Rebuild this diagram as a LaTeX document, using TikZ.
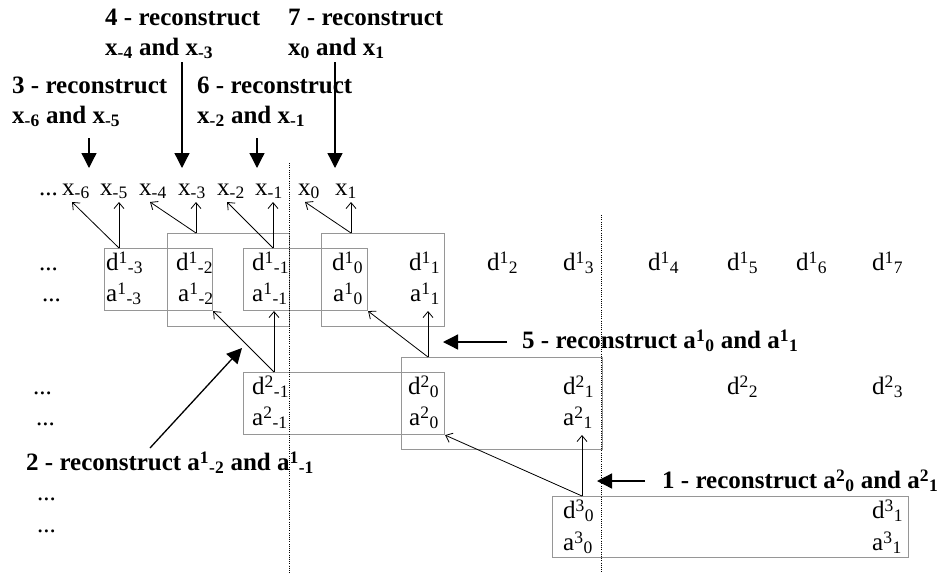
\documentclass[tikz,border=0pt]{standalone}
\usepackage{fontspec}
\setmainfont{Liberation Serif}
\usetikzlibrary{arrows.meta}
\definecolor{boxgray}{RGB}{150,150,150}
% coefficient with superscript level and subscript index side by side
\newcommand\wcoef[3]{#1\raisebox{-0.12em}{\textsuperscript{#2}}\textsubscript{#3}}
\begin{document}
\begin{tikzpicture}[x=1pt,y=-1pt,
  txt/.style={anchor=base west,inner sep=0pt,font=\fontsize{25}{28}\selectfont},
  lbl/.style={anchor=base west,inner sep=0pt,font=\fontsize{25}{30}\selectfont\bfseries},
  gbox/.style={draw=boxgray,line width=1.1pt,inner sep=0pt,anchor=north west},
  lift/.style={line width=0.8pt,-{Straight Barb[length=6pt,width=10pt]}},
  callout/.style={line width=1.3pt,-{Triangle[length=15pt,width=15pt]}},
  divider/.style={line width=0.8pt,dash pattern=on 0.8pt off 1.4pt}]
\useasboundingbox (0,0) rectangle (941,573);

% grouping boxes
\node[gbox,minimum width=108pt,minimum height=62pt] (A) at (104,248) {};
\node[gbox,minimum width=122pt,minimum height=93pt] (B) at (167,233) {};
\node[gbox,minimum width=124pt,minimum height=62pt] (C) at (243,248) {};
\node[gbox,minimum width=123pt,minimum height=93pt] (D) at (321,233) {};
\node[gbox,minimum width=201pt,minimum height=92pt] (E) at (401,357) {};
\node[gbox,minimum width=201pt,minimum height=62pt] (F) at (243,372) {};
\node[gbox,minimum width=356pt,minimum height=61pt] (G) at (552,496) {};

% dotted dividers
\coordinate (s1t) at (289,163); \coordinate (s1b) at (289,573);
\coordinate (s2t) at (601,215); \coordinate (s2b) at (601,573);
\draw[divider] (s1t) -- (s1b);
\draw[divider] (s2t) -- (s2b);

% signal samples
\node[txt] (xdots) at (39,195) {...};
\node[txt] (xm6) at (62,195) {x\textsubscript{-6}};
\node[txt] (xm5) at (100,195) {x\textsubscript{-5}};
\node[txt] (xm4) at (139,195) {x\textsubscript{-4}};
\node[txt] (xm3) at (178,195) {x\textsubscript{-3}};
\node[txt] (xm2) at (217,195) {x\textsubscript{-2}};
\node[txt] (xm1) at (255,195) {x\textsubscript{-1}};
\node[txt] (x0) at (298,195) {x\textsubscript{0}};
\node[txt] (x1) at (335,195) {x\textsubscript{1}};

% level 1
\node[txt] (d1dots) at (39,270) {...};
\node[txt] (a1dots) at (42,301) {...};
\node[txt] (d1m3) at (106,270) {\wcoef{d}{1}{-3}};
\node[txt] (d1m2) at (176,270) {\wcoef{d}{1}{-2}};
\node[txt] (d1m1) at (252,270) {\wcoef{d}{1}{-1}};
\node[txt] (d10) at (332,270) {\wcoef{d}{1}{0}};
\node[txt] (d11) at (409,270) {\wcoef{d}{1}{1}};
\node[txt] (d12) at (487,270) {\wcoef{d}{1}{2}};
\node[txt] (d13) at (563,270) {\wcoef{d}{1}{3}};
\node[txt] (d14) at (648,270) {\wcoef{d}{1}{4}};
\node[txt] (d15) at (727,270) {\wcoef{d}{1}{5}};
\node[txt] (d16) at (796,270) {\wcoef{d}{1}{6}};
\node[txt] (d17) at (872,270) {\wcoef{d}{1}{7}};
\node[txt] (a1m3) at (106,301) {\wcoef{a}{1}{-3}};
\node[txt] (a1m2) at (178,301) {\wcoef{a}{1}{-2}};
\node[txt] (a1m1) at (252,301) {\wcoef{a}{1}{-1}};
\node[txt] (a10) at (333,301) {\wcoef{a}{1}{0}};
\node[txt] (a11) at (410,301) {\wcoef{a}{1}{1}};

% level 2
\node[txt] (d2dots) at (33,394) {...};
\node[txt] (a2dots) at (36,425) {...};
\node[txt] (d2m1) at (252,394) {\wcoef{d}{2}{-1}};
\node[txt] (d20) at (408,394) {\wcoef{d}{2}{0}};
\node[txt] (d21) at (563,394) {\wcoef{d}{2}{1}};
\node[txt] (d22) at (727,394) {\wcoef{d}{2}{2}};
\node[txt] (d23) at (872,394) {\wcoef{d}{2}{3}};
\node[txt] (a2m1) at (252,425) {\wcoef{a}{2}{-1}};
\node[txt] (a20) at (409,425) {\wcoef{a}{2}{0}};
\node[txt] (a21) at (563,425) {\wcoef{a}{2}{1}};

% level 3
\node[txt] (d3dots) at (37,500) {...};
\node[txt] (a3dots) at (37,532) {...};
\node[txt] (d30) at (563,518) {\wcoef{d}{3}{0}};
\node[txt] (d31) at (872,518) {\wcoef{d}{3}{1}};
\node[txt] (a30) at (563,550) {\wcoef{a}{3}{0}};
\node[txt] (a31) at (872,550) {\wcoef{a}{3}{1}};

% reconstruction connectors
\coordinate (pA) at (119,248); \coordinate (pB) at (196,233);
\coordinate (pC) at (273,248); \coordinate (pD) at (351,233);
\coordinate (pE) at (428,357); \coordinate (pF) at (274,372);
\coordinate (pG) at (582,496);
\coordinate (tm6) at (72,202);  \coordinate (tm5) at (119,202);
\coordinate (tm4) at (150,202); \coordinate (tm3) at (196,202);
\coordinate (tm2) at (227,202); \coordinate (tm1) at (273,202);
\coordinate (t0) at (305,202);  \coordinate (t1) at (351,202);
\coordinate (ta1m1) at (274,311); \coordinate (ta11) at (428,311);
\coordinate (ta21) at (582,435);
\draw[lift] (pA) -- (tm6); \draw[lift] (pA) -- (tm5);
\draw[lift] (pB) -- (tm4); \draw[lift] (pB) -- (tm3);
\draw[lift] (pC) -- (tm2); \draw[lift] (pC) -- (tm1);
\draw[lift] (pD) -- (t0);  \draw[lift] (pD) -- (t1);
\draw[lift] (pF) -- (A.south east); \draw[lift] (pF) -- (ta1m1);
\draw[lift] (pE) -- (C.south east); \draw[lift] (pE) -- (ta11);
\draw[lift] (pG) -- (F.south east); \draw[lift] (pG) -- (ta21);

% step labels
\node[lbl] (l4a) at (105,25) {4 - reconstruct};
\node[lbl] (l4b) at (105,55) {x\textsubscript{-4} and x\textsubscript{-3}};
\node[lbl] (l7a) at (288,25) {7 - reconstruct};
\node[lbl] (l7b) at (288,55) {x\textsubscript{0} and x\textsubscript{1}};
\node[lbl] (l3a) at (12,93) {3 - reconstruct};
\node[lbl] (l3b) at (12,123) {x\textsubscript{-6} and x\textsubscript{-5}};
\node[lbl] (l6a) at (197,93) {6 - reconstruct};
\node[lbl] (l6b) at (197,123) {x\textsubscript{-2} and x\textsubscript{-1}};
\node[lbl] (l5) at (522,348) {5 - reconstruct \wcoef{a}{1}{0} and \wcoef{a}{1}{1}};
\node[lbl] (l2) at (26,470) {2 - reconstruct \wcoef{a}{1}{-2} and \wcoef{a}{1}{-1}};
\node[lbl] (l1) at (662,488) {1 - reconstruct \wcoef{a}{2}{0} and \wcoef{a}{2}{1}};

% step pointers
\coordinate (c4s) at (182,62);  \coordinate (c4e) at (182,168);
\coordinate (c7s) at (335,62);  \coordinate (c7e) at (335,168);
\coordinate (c3s) at (89,138);  \coordinate (c3e) at (89,168);
\coordinate (c6s) at (257,138); \coordinate (c6e) at (257,168);
\coordinate (c2s) at (150,448); \coordinate (c2e) at (242,348);
\coordinate (c5s) at (507,342); \coordinate (c5e) at (443,342);
\coordinate (c1s) at (645,481); \coordinate (c1e) at (597,481);
\draw[callout] (c4s) -- (c4e);
\draw[callout] (c7s) -- (c7e);
\draw[callout] (c3s) -- (c3e);
\draw[callout] (c6s) -- (c6e);
\draw[callout] (c2s) -- (c2e);
\draw[callout] (c5s) -- (c5e);
\draw[callout] (c1s) -- (c1e);
\end{tikzpicture}
\end{document}
